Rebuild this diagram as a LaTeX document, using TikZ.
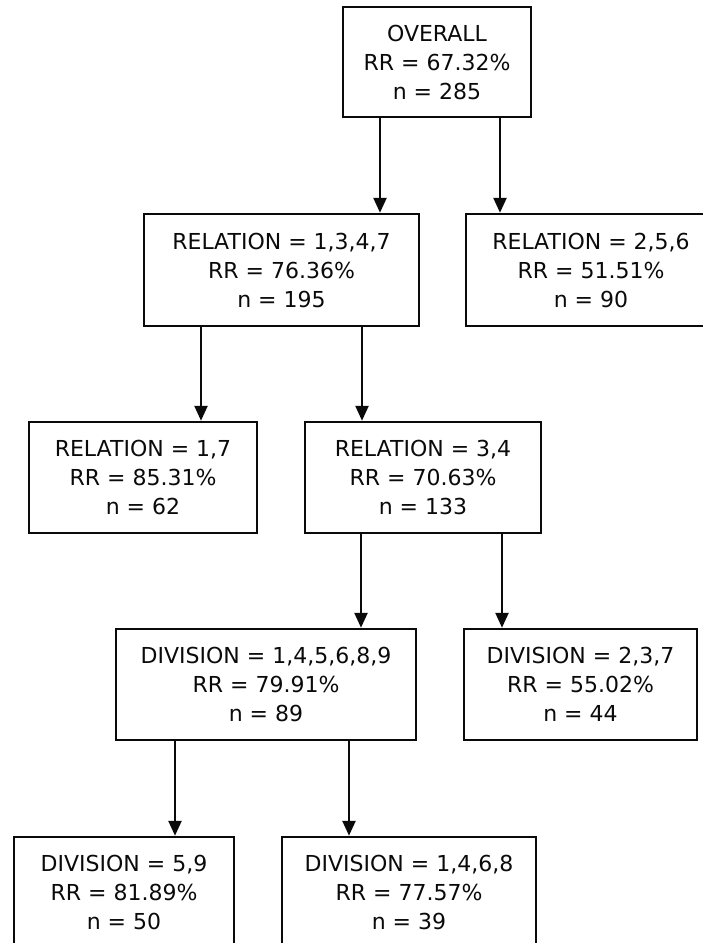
\documentclass[tikz,border=0pt]{standalone}
\usepackage{fontspec}
\setmainfont{DejaVu Sans}
\usetikzlibrary{arrows.meta}
\definecolor{ink}{HTML}{0A0A0A}
\tikzset{
  treebox/.style={draw=ink, line width=2.5pt, inner sep=0pt, align=center, text=ink,
    font=\fontsize{22}{29}\selectfont},
  arr/.style={draw=ink, line width=2.5pt, -{Triangle[length=15pt,width=13pt]}}
}
\begin{document}
\begin{tikzpicture}[x=1pt,y=-1pt]
\useasboundingbox (0,0) rectangle (703,943);
\clip (0,0) rectangle (703,943);
\node[treebox, minimum width=188pt, minimum height=110pt] (b1) at (437,62) {OVERALL\\RR = 67.32\%\\n = 285};
\node[treebox, minimum width=275pt, minimum height=112pt] (b2) at (281.5,270) {RELATION = 1,3,4,7\\RR = 76.36\%\\n = 195};
\node[treebox, minimum width=250pt, minimum height=112pt] (b3) at (591,270) {RELATION = 2,5,6\\RR = 51.51\%\\n = 90};
\node[treebox, minimum width=228pt, minimum height=111pt] (b4) at (143,477.5) {RELATION = 1,7\\RR = 85.31\%\\n = 62};
\node[treebox, minimum width=236pt, minimum height=111pt] (b5) at (423,477.5) {RELATION = 3,4\\RR = 70.63\%\\n = 133};
\node[treebox, minimum width=300pt, minimum height=111pt] (b6) at (266,684.5) {DIVISION = 1,4,5,6,8,9\\RR = 79.91\%\\n = 89};
\node[treebox, minimum width=233pt, minimum height=111pt] (b7) at (580.5,684.5) {DIVISION = 2,3,7\\RR = 55.02\%\\n = 44};
\node[treebox, minimum width=220pt, minimum height=111pt] (b8) at (124,892.5) {DIVISION = 5,9\\RR = 81.89\%\\n = 50};
\node[treebox, minimum width=254pt, minimum height=111pt] (b9) at (409,892.5) {DIVISION = 1,4,6,8\\RR = 77.57\%\\n = 39};
\draw[arr] (380,0 |- b1.south) -- (380,0 |- b2.north);
\draw[arr] (500,0 |- b1.south) -- (500,0 |- b3.north);
\draw[arr] (201,0 |- b2.south) -- (201,0 |- b4.north);
\draw[arr] (362,0 |- b2.south) -- (362,0 |- b5.north);
\draw[arr] (361,0 |- b5.south) -- (361,0 |- b6.north);
\draw[arr] (502,0 |- b5.south) -- (502,0 |- b7.north);
\draw[arr] (175,0 |- b6.south) -- (175,0 |- b8.north);
\draw[arr] (349,0 |- b6.south) -- (349,0 |- b9.north);
\end{tikzpicture}
\end{document}
